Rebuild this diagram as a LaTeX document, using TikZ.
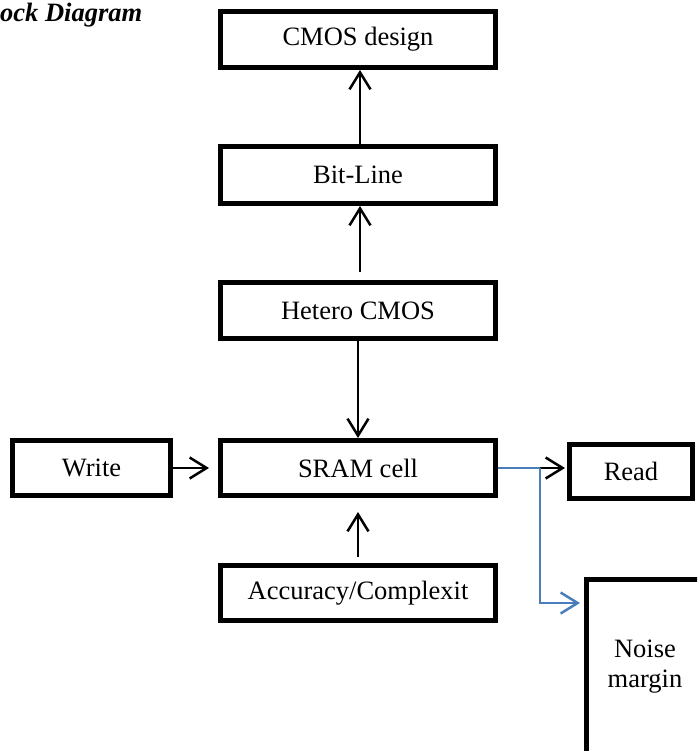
\documentclass[tikz,border=0pt]{standalone}
\usepackage{fontspec}
\setmainfont{Liberation Serif}
\usetikzlibrary{arrows.meta}
\definecolor{blueline}{HTML}{4A7EBB}
\begin{document}
\begin{tikzpicture}[x=1pt,y=-1pt,
  box/.style={draw, line width=5pt, minimum height=56pt, inner sep=0pt,
    font=\fontsize{26.5}{30}\selectfont},
  barb/.style={-{Straight Barb[length=17pt,width=21pt,line width=2.5pt]}},
  conn/.style={line width=2.5pt, barb},
  bconn/.style={draw=blueline, line width=2pt},
 ]
\useasboundingbox (0,0) rectangle (697,751);
\clip (0,0) rectangle (697,751);

\node[anchor=base west, inner sep=0pt,
  font=\fontsize{26.5}{30}\selectfont\bfseries\itshape] (title) at (0,21.7) {ock Diagram};

\node[box, minimum width=275pt, minimum height=56pt] (cmos) at (358,39.5) {CMOS design};
\node[box, minimum width=275pt, minimum height=57pt] (bit) at (358,175) {Bit-Line};
\node[box, minimum width=275pt, minimum height=56pt] (het) at (358,310.5) {Hetero CMOS};
\node[box, minimum width=275pt, minimum height=55pt] (sram) at (358,468) {SRAM cell};
\node[box, minimum width=275pt, minimum height=55pt] (acc) at (358,593) {Accuracy/Complexit};
\node[box, minimum width=158pt, minimum height=55pt] (write) at (91.5,468) {Write};
\node[box, minimum width=123pt, minimum height=54pt] (read) at (631,471.5) {Read};
\node[box, minimum width=117pt, minimum height=175pt, align=center] (noise) at (645,667) {Noise\\margin};

\draw[conn] ([xshift=2pt]bit.north) -- ([xshift=2pt]cmos.south);
\draw[conn] ([xshift=2pt,yshift=8pt]het.north) -- ([xshift=2pt]bit.south);
\draw[conn] (het.south) -- (sram.north);
\draw[conn] ([yshift=6pt]acc.north) -- ([yshift=-14pt]sram.south);
\draw[conn] (write.east) -- ([xshift=-9pt]sram.west);

\coordinate (split) at (540,468);
\coordinate (nmin) at (580,603);
\draw[bconn] (sram.east) -- (split);
\draw[conn] (split) -- ([xshift=-2pt]read.west |- split);
\draw[bconn, barb] (split) |- (nmin);
\end{tikzpicture}
\end{document}
